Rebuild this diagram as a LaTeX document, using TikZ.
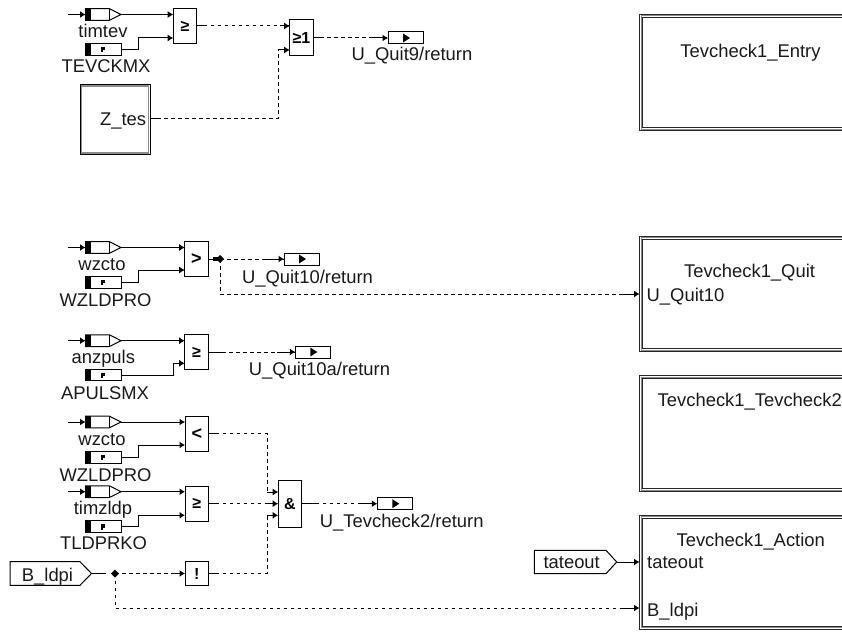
\documentclass[tikz,border=0pt]{standalone}
\usepackage{fontspec}
\setmainfont{Liberation Sans}
\usetikzlibrary{arrows.meta}
\tikzset{
 wire/.style={line width=1pt,-{Latex[length=5.5pt,width=7pt]}},
 plain/.style={line width=1pt},
 dwire/.style={line width=1pt,dash pattern=on 3.6pt off 3.4pt},
 block/.style={draw,line width=1pt,fill=white,minimum width=23.6pt,inner sep=0pt,outer sep=0pt,font=\fontsize{16}{16}\selectfont\bfseries},
 lab/.style={anchor=base,inner sep=0pt,font=\fontsize{18.4}{18.4}\selectfont,text=black!90},
}
\newcommand{\sigin}[2]{%
 \coordinate (#1s) at (68,#2);
 \fill (85.5,#2-5.8) rectangle (91,#2+5.8);
 \draw[line width=1pt] (85.5,#2-5.8) -- (109.5,#2-5.8) -- (121,#2) -- (109.5,#2+5.8) -- (85.5,#2+5.8) -- cycle;
 \draw[line width=1pt] (109.5,#2-5.8) -- (109.5,#2+5.8);
 \coordinate (#1) at (121,#2);
 \coordinate (#1b) at (85.5,#2);
 \draw[wire] (#1s) -- (#1b);
}
\newcommand{\param}[2]{%
 \fill (85.5,#2-5.8) rectangle (91,#2+5.8);
 \draw[line width=1pt] (85.5,#2-5.8) rectangle (121,#2+5.8);
 \fill (101,#2-2.5) rectangle (105,#2+1);
 \fill (101,#2) rectangle (103,#2+3);
 \coordinate (#1) at (121,#2);
}
\newcommand{\outport}[3]{%
 \draw[line width=1pt] (#2,#3-6) rectangle (#2+35.5,#3+6);
 \fill (#2+15,#3-4.5) -- (#2+22,#3) -- (#2+15,#3+4.5) -- cycle;
 \coordinate (#1) at (#2,#3);
}
\begin{document}
\begin{tikzpicture}[x=1pt,y=-1pt]
\useasboundingbox (0,0) rectangle (842,631);
\begin{scope}
\clip (0,0) rectangle (842,631);
\foreach \yt/\yb in {14.3/130.7,236/351.7,375.7/491.7,515.3/629.3}{
 \draw[draw=black!85,line width=1pt] (639.5,\yt) rectangle (900,\yb);
 \draw[draw=black!85,line width=1pt] (642.5,\yt+3) rectangle (900,\yb-3);
 \draw[draw=black!45,line width=1pt] (641,\yt+1.5) rectangle (900,\yb-1.5);
}
\node[lab] (entry) at (750.5,57.3) {Tevcheck1\_Entry};
\node[lab] (quit) at (749.5,277.7) {Tevcheck1\_Quit};
\node[lab,anchor=base west] (quitp) at (646.5,301.7) {U\_Quit10};
\node[lab,anchor=base west] (tt) at (657.5,406) {Tevcheck1\_Tevcheck2};
\node[lab] (act) at (750.7,546) {Tevcheck1\_Action};
\node[lab,anchor=base west] (actp1) at (647,568.3) {tateout};
\node[lab,anchor=base west] (actp2) at (647,616) {B\_ldpi};
\end{scope}
\coordinate (pquit) at (639.5,294);
\coordinate (pact1) at (639.5,562);
\coordinate (pact2) at (639.5,608);

% row 1
\sigin{a1}{14.5}
\param{a2}{49.5}
\node[lab] at (103,37.5) {timtev};
\node[lab] at (106,72.5) {TEVCKMX};
\node[block,minimum height=35.5pt] (b1) at (185,26.2) {≥};
\draw[wire] (a1) -- (b1.west |- a1);
\draw[wire] (a2) -- (138,49.5) -- (138,38) -- (b1.west |- 0,38);
\node[draw=black,line width=1pt,minimum width=70pt,minimum height=70pt,inner sep=0pt,outer sep=0pt] (z) at (115,119.5) {};
\draw[draw=black!45,line width=1.6pt] (81.5,86) rectangle (148.5,153);
\node[lab,anchor=base east] at (146.3,126) {Z\_tes};
\node[block,minimum height=36pt] (b2) at (301.5,38) {≥1};
\draw[dwire] (b1.east |- 0,26) -- (b2.west |- 0,26);
\draw[plain] (b1.east |- 0,26) -- ++(8,0);
\draw[wire] (280,26) -- (b2.west |- 0,26);
\draw[dwire] (z.east |- 0,119) -- (278,119) -- (278,50);
\draw[plain] (z.east |- 0,119) -- ++(10,0);
\draw[wire] (278,50) -- (b2.west |- 0,50);
\outport{o1}{388}{38}
\draw[dwire] (b2.east |- o1) -- (o1);
\draw[plain] (b2.east |- o1) -- ++(10,0);
\draw[wire] (371,38) -- (o1);
\node[lab] at (412,61) {U\_Quit9/return};

% row 2
\sigin{c1}{247.5}
\param{c2}{282.3}
\node[lab] at (102,270.7) {wzcto};
\node[lab] at (105.5,306) {WZLDPRO};
\node[block,minimum height=35.7pt,font=\fontsize{18}{18}\selectfont\bfseries] (b3) at (196.5,259) {>};
\draw[wire] (c1) -- (b3.west |- c1);
\draw[wire] (c2) -- (138.3,282.3) -- (138.3,270) -- (b3.west |- 0,270);
\coordinate (j1) at (220,259);
\draw[plain] (b3.east) -- (j1);
\fill (212.7,256.7) rectangle (219,261.3);
\fill (216,259) -- (220,255) -- (224,259) -- (220,263) -- cycle;
\outport{o2}{284}{259}
\draw[dwire] (j1) -- (o2);
\draw[wire] (266,259) -- (o2);
\node[lab] at (307.5,283.3) {U\_Quit10/return};
\draw[dwire] (j1) -- (220,294) -- (pquit);
\draw[wire] (622,294) -- (pquit);

% row 3
\sigin{d1}{340.7}
\param{d2}{375}
\node[lab] at (103.3,363.3) {anzpuls};
\node[lab] at (105,399) {APULSMX};
\node[block,minimum height=35.4pt] (b4) at (196.5,352) {≥};
\draw[wire] (d1) -- (b4.west |- d1);
\draw[wire] (d2) -- (173.3,375) -- (173.3,363.3) -- (b4.west |- 0,363.3);
\outport{o3}{295.3}{352}
\draw[dwire] (b4.east) -- (o3);
\draw[plain] (b4.east) -- ++(14,0);
\draw[wire] (277,352) -- (o3);
\node[lab] at (319.5,375.5) {U\_Quit10a/return};

% row 4
\sigin{e1}{422}
\param{e2}{457.3}
\node[lab] at (102,445.7) {wzcto};
\node[lab] at (105.5,481) {WZLDPRO};
\node[block,minimum height=35.3pt,font=\fontsize{18}{18}\selectfont\bfseries] (b5) at (196.8,433.7) {<};
\draw[wire] (e1) -- (b5.west |- e1);
\draw[wire] (e2) -- (138,457.3) -- (138,445) -- (b5.west |- 0,445);

% row 5
\sigin{f1}{491.7}
\param{f2}{526.7}
\node[lab] at (103,514.3) {timzldp};
\node[lab] at (103.5,549.3) {TLDPRKO};
\node[block,minimum height=35.3pt] (b6) at (196.8,503.7) {≥};
\draw[wire] (f1) -- (b6.west |- f1);
\draw[wire] (f2) -- (138,526.7) -- (138,515.3) -- (b6.west |- 0,515.3);

% B_ldpi
\node[lab] (bl) at (47.5,581) {B\_ldpi};
\draw[line width=1pt] (10,561.7) -- (80,561.7) -- (91.5,573.5) -- (80,585.3) -- (10,585.3) -- cycle;
\coordinate (blo) at (91.5,573.5);
\coordinate (j2) at (115,573.5);
\draw[plain] (blo) -- (106,573.5);
\fill (111,573.5) -- (115,569.5) -- (119,573.5) -- (115,577.5) -- cycle;
\node[block,minimum height=23.6pt] (b7) at (196.8,573.5) {!};
\draw[dwire] (j2) -- (b7.west);
\draw[wire] (172,573.5) -- (b7.west);

% AND
\node[block,minimum height=46.7pt] (b8) at (290,503.7) {\&};
\draw[dwire] (b5.east) -- (267,433.7) -- (267,492);
\draw[plain] (b5.east) -- ++(8,0);
\draw[wire] (267,492) -- (b8.west |- 0,492);
\draw[dwire] (b6.east) -- (b8.west);
\draw[plain] (b6.east) -- ++(8,0);
\draw[wire] (266,503.7) -- (b8.west);
\draw[dwire] (b7.east) -- (267,573.5) -- (267,515.3);
\draw[plain] (b7.east) -- ++(8,0);
\draw[wire] (267,515.3) -- (b8.west |- 0,515.3);
\outport{o4}{377.3}{503.7}
\draw[dwire] (b8.east) -- (o4);
\draw[plain] (b8.east) -- ++(14,0);
\draw[wire] (360,503.7) -- (o4);
\node[lab] at (401.7,527.3) {U\_Tevcheck2/return};

% branch to action
\draw[dwire] (j2) -- (115,608) -- (pact2);
\draw[wire] (622,608) -- (pact2);

% tateout
\node[lab] (tat) at (571.7,568.3) {tateout};
\draw[line width=1pt] (534.3,550.3) -- (606,550.3) -- (616.7,562) -- (606,573.7) -- (534.3,573.7) -- cycle;
\coordinate (tato) at (616.7,562);
\draw[wire] (tato) -- (pact1);
\end{tikzpicture}
\end{document}
